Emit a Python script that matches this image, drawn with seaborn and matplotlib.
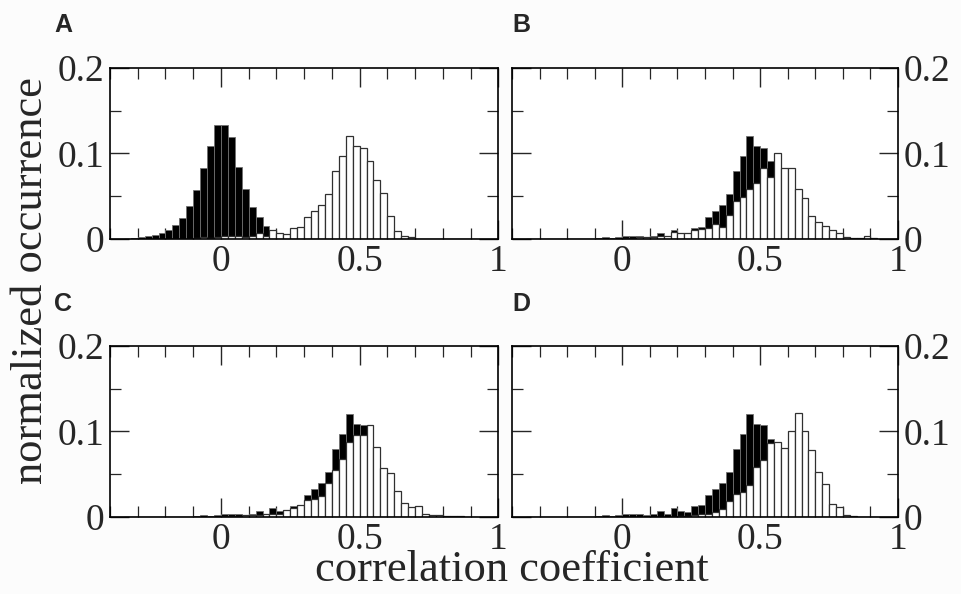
import numpy as np
import pandas as pd
import matplotlib
matplotlib.use("Agg")
import matplotlib.pyplot as plt
import seaborn as sns
from matplotlib.ticker import MultipleLocator

# histogram bins (width 0.025) from -0.35 to 0.925
bin_edges = [round(-0.35 + 0.025 * i, 3) for i in range(52)]
bin_centers = [round(e + 0.0125, 4) for e in bin_edges[:-1]]

# shuffled / null distribution (panel A, black)
null_hist = [0.0, 0.001, 0.002, 0.003, 0.005, 0.007, 0.010, 0.016, 0.024, 0.039,
             0.057, 0.083, 0.109, 0.133, 0.133, 0.119, 0.084, 0.058, 0.038, 0.026,
             0.015, 0.008, 0.005, 0.003, 0.002, 0.001, 0, 0, 0, 0,
             0, 0, 0, 0, 0, 0, 0, 0, 0, 0,
             0, 0, 0, 0, 0, 0, 0, 0, 0, 0, 0]

# measured distribution (white in A, black in B-D)
real_hist = [0, 0, 0, 0, 0, 0, 0, 0, 0, 0,
             0.001, 0.002, 0.001, 0.002, 0.0035, 0.004, 0.003, 0.002, 0.004, 0.0065,
             0.004, 0.010, 0.007, 0.006, 0.013, 0.014, 0.026, 0.033, 0.040, 0.053,
             0.079, 0.097, 0.120, 0.109, 0.107, 0.091, 0.069, 0.054, 0.027, 0.009,
             0.003, 0.002, 0.0005, 0, 0, 0, 0, 0, 0, 0, 0]

model_b = [0, 0, 0, 0, 0, 0, 0, 0, 0, 0,
           0, 0, 0, 0, 0.001, 0.001, 0.002, 0.002, 0.002, 0.003,
           0.003, 0.0085, 0.007, 0.0065, 0.010, 0.012, 0.013, 0.017, 0.014, 0.028,
           0.045, 0.049, 0.059, 0.065, 0.083, 0.073, 0.101, 0.083, 0.083, 0.058,
           0.048, 0.027, 0.020, 0.015, 0.011, 0.0065, 0.002, 0.0015, 0.001, 0.003, 0.001]

model_c = [0, 0, 0, 0, 0, 0, 0, 0, 0, 0,
           0, 0, 0, 0, 0.001, 0.001, 0.001, 0.002, 0.002, 0.002,
           0.003, 0.003, 0.004, 0.0085, 0.011, 0.0135, 0.020, 0.021, 0.025, 0.040,
           0.055, 0.068, 0.088, 0.096, 0.096, 0.108, 0.082, 0.057, 0.051, 0.031,
           0.016, 0.012, 0.013, 0.003, 0.002, 0.002, 0.001, 0.001, 0.001, 0, 0]

model_d = [0, 0, 0, 0, 0, 0, 0, 0, 0, 0,
           0, 0, 0, 0, 0, 0, 0, 0, 0, 0,
           0, 0, 0.001, 0.001, 0.002, 0.003, 0.004, 0.006, 0.009, 0.019,
           0.027, 0.029, 0.037, 0.059, 0.067, 0.087, 0.088, 0.081, 0.101, 0.122,
           0.101, 0.078, 0.053, 0.039, 0.015, 0.012, 0.002, 0.001, 0, 0, 0]

panels = ["A", "B", "C", "D"]
black_series = [null_hist, real_hist, real_hist, real_hist]
white_series = [real_hist, model_b, model_c, model_d]

sns.set_style("ticks")
plt.rcParams["font.family"] = ["Liberation Serif", "DejaVu Serif"]
plt.rcParams["xtick.direction"] = "in"
plt.rcParams["ytick.direction"] = "in"

fig = plt.figure(figsize=(9.61, 5.94), dpi=100, facecolor="#fcfcfc")

positions = [[0.1145, 0.5976, 0.404, 0.288],
             [0.5328, 0.5976, 0.4017, 0.288],
             [0.1145, 0.1296, 0.404, 0.288],
             [0.5328, 0.1296, 0.4017, 0.288]]
label_xy = [(0.066, 0.958), (0.543, 0.958), (0.066, 0.488), (0.543, 0.488)]

for k, name in enumerate(panels):
    ax = fig.add_axes(positions[k])
    ax.set_facecolor("white")
    df = pd.DataFrame({"r": bin_centers, "black": black_series[k], "white": white_series[k]})
    sns.histplot(data=df, x="r", weights="black", bins=bin_edges, ax=ax,
                 color="black", edgecolor="#707070", linewidth=0.6, alpha=1)
    sns.histplot(data=df, x="r", weights="white", bins=bin_edges, ax=ax,
                 color="white", edgecolor="#303030", linewidth=0.9, alpha=1)
    ax.set_xlim(-0.4, 1.0)
    ax.set_ylim(0, 0.2)
    ax.set_xlabel("")
    ax.set_ylabel("")
    ax.xaxis.set_major_locator(MultipleLocator(0.5))
    ax.xaxis.set_minor_locator(MultipleLocator(0.1))
    ax.yaxis.set_major_locator(MultipleLocator(0.1))
    ax.yaxis.set_minor_locator(MultipleLocator(0.05))
    ax.xaxis.set_major_formatter(plt.FuncFormatter(lambda v, p: f"{v:g}"))
    ax.yaxis.set_major_formatter(plt.FuncFormatter(lambda v, p: f"{v:g}"))
    ax.tick_params(which="major", length=14, width=1.0, top=True, right=True,
                   labelsize=27, pad=4)
    ax.tick_params(which="minor", length=8, width=0.9, top=True, right=True)
    if k % 2 == 1:
        ax.tick_params(axis="y", labelleft=False, labelright=True)
    for sp in ax.spines.values():
        sp.set_linewidth(1.2)
        sp.set_color("black")
    fig.text(label_xy[k][0], label_xy[k][1], name,
             family=["Liberation Sans", "DejaVu Sans"], fontweight="bold",
             fontsize=18, ha="center", va="center")

fig.text(0.032, 0.528, "normalized occurrence", rotation=90, fontsize=32,
         ha="center", va="center")
fig.text(0.533, 0.04, "correlation coefficient", fontsize=32,
         ha="center", va="center")

fig.savefig("out.png", dpi=100, facecolor=fig.get_facecolor())
